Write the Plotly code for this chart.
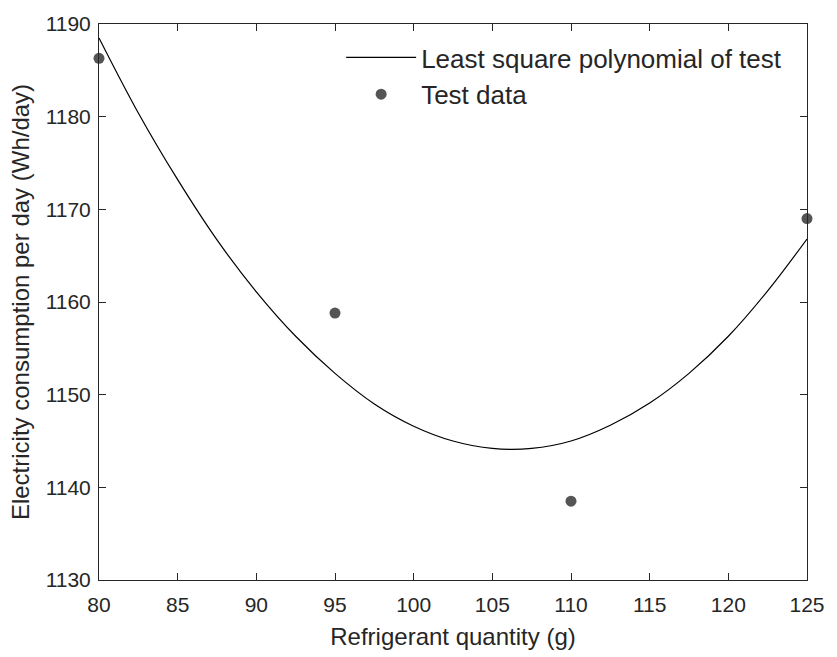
import plotly.graph_objects as go

# Test data
test_x = [80, 95, 110, 125]
test_y = [1186.3, 1158.8, 1138.5, 1169.0]

# Least square polynomial curve
fit_x = [80, 82.5, 85, 87.5, 90, 92.5, 95, 97.5, 100, 102.5, 105, 107.5,
         110, 112.5, 115, 117.5, 120, 122.5, 125]
fit_y = [1188.5, 1180.4, 1173.2, 1166.7, 1161.1, 1156.3, 1152.3, 1149.0,
         1146.6, 1145.0, 1144.2, 1144.2, 1145.0, 1146.7, 1149.1, 1152.3,
         1156.3, 1161.2, 1166.8]

x_ticks = [80, 85, 90, 95, 100, 105, 110, 115, 120, 125]
y_ticks = [1130, 1140, 1150, 1160, 1170, 1180, 1190]

FONT = "Liberation Sans, Arial, sans-serif"
AX = "#262626"

fig = go.Figure()
fig.add_trace(go.Scatter(
    x=fit_x, y=fit_y, mode="lines", name="Least square polynomial of test",
    line=dict(color="black", width=1.2, shape="spline"),
    legendgroup="a",
))
fig.add_trace(go.Scatter(
    x=test_x, y=test_y, mode="markers", name="Test data",
    marker=dict(color="#555555", size=11, symbol="circle"),
    cliponaxis=False, legendgroup="b",
))

axis_common = dict(
    showline=True, linecolor=AX, linewidth=1, mirror="ticks",
    ticks="inside", ticklen=7, tickcolor=AX, showgrid=False, zeroline=False,
    tickfont=dict(family=FONT, size=21, color=AX),
)

fig.update_layout(
    width=837, height=657,
    margin=dict(l=99, r=23, t=15, b=77),
    paper_bgcolor="white", plot_bgcolor="white",
    font=dict(family=FONT, color=AX),
    xaxis=dict(range=[80, 125], tickvals=x_ticks, ticklabelstandoff=6,
               title=dict(text="Refrigerant quantity (g)",
                          font=dict(family=FONT, size=24, color=AX), standoff=12),
               **axis_common),
    yaxis=dict(range=[1130, 1190], tickvals=y_ticks, ticklabelstandoff=3,
               title=dict(text="Electricity consumption per day (Wh/day)",
                          font=dict(family=FONT, size=24, color=AX), standoff=9),
               **axis_common),
    showlegend=True,
    legend=dict(x=0.342, y=0.982, xanchor="left", yanchor="top",
                bgcolor="rgba(0,0,0,0)", borderwidth=0,
                font=dict(family=FONT, size=26, color=AX),
                itemwidth=70, tracegroupgap=0, traceorder="grouped"),
)

fig.write_html("out.html")
